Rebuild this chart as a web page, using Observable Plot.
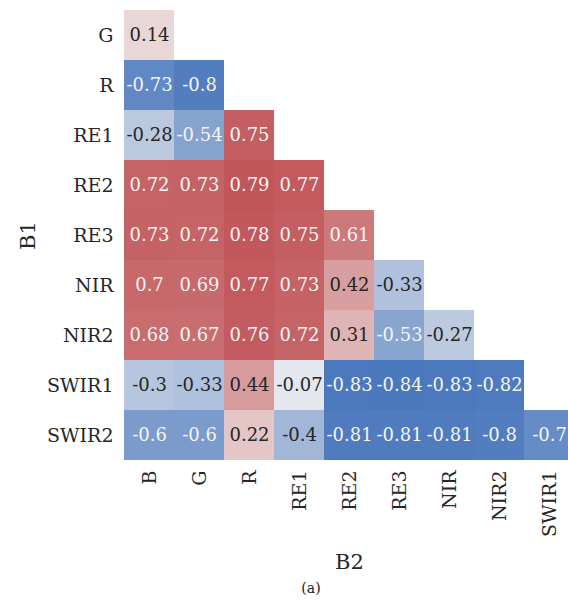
<!DOCTYPE html>
<html>
<head>
<meta charset="utf-8">
<script src="https://cdn.jsdelivr.net/npm/d3@7"></script>
<script src="https://cdn.jsdelivr.net/npm/@observablehq/plot@0.6"></script>
<style>
  html, body { margin: 0; padding: 0; background: #fff; }
  #caption { font-family: "DejaVu Serif", serif; font-size: 14px; color: #222; width: 568px; box-sizing: border-box; padding-left: 54px; text-align: center; margin-top: 2px; }
</style>
</head>
<body>
<div id="chart"></div>
<div id="caption">(a)</div>
<script>
const rowLabels = ["G", "R", "RE1", "RE2", "RE3", "NIR", "NIR2", "SWIR1", "SWIR2"];
const colLabels = ["B", "G", "R", "RE1", "RE2", "RE3", "NIR", "NIR2", "SWIR1"];
const rowG     = [0.14];
const rowR     = [-0.73, -0.8];
const rowRE1   = [-0.28, -0.54, 0.75];
const rowRE2   = [0.72, 0.73, 0.79, 0.77];
const rowRE3   = [0.73, 0.72, 0.78, 0.75, 0.61];
const rowNIR   = [0.7, 0.69, 0.77, 0.73, 0.42, -0.33];
const rowNIR2  = [0.68, 0.67, 0.76, 0.72, 0.31, -0.53, -0.27];
const rowSWIR1 = [-0.3, -0.33, 0.44, -0.07, -0.83, -0.84, -0.83, -0.82];
const rowSWIR2 = [-0.6, -0.6, 0.22, -0.4, -0.81, -0.81, -0.81, -0.8, -0.7];
const rowValues = [rowG, rowR, rowRE1, rowRE2, rowRE3, rowNIR, rowNIR2, rowSWIR1, rowSWIR2];

const cells = [];
rowValues.forEach((vals, i) => vals.forEach((v, j) => cells.push({b1: rowLabels[i], b2: colLabels[j], v})));

const font = "DejaVu Serif";
const chart = Plot.plot({
  width: 568,
  height: 578,
  marginLeft: 123,
  marginTop: 10,
  marginBottom: 118,
  marginRight: -7,
  style: {fontFamily: font, color: "#262626", background: "white", overflow: "hidden"},
  x: {domain: colLabels, padding: 0},
  y: {domain: rowLabels, padding: 0},
  color: {type: "linear", domain: [-0.84, 0, 0.79], range: ["#4a78bd", "#f2f1f1", "#c1565a"]},
  marks: [
    Plot.cell(cells, {x: "b2", y: "b1", fill: "v"}),
    Plot.text(cells, {x: "b2", y: "b1", text: d => String(d.v), fontSize: 18,
      fill: d => (d.v < -0.45 || d.v > 0.5) ? "#f4f4f4" : "#262626"}),
    Plot.axisX({tickSize: 0, tickPadding: 10, tickRotate: -90, fontSize: 19,
      label: "B2", labelAnchor: "center", labelArrow: "none", labelOffset: 108}),
    Plot.axisY({tickSize: 0, tickPadding: 10, fontSize: 19,
      label: "B1", labelAnchor: "center", labelArrow: "none", labelOffset: 103})
  ]
});
document.getElementById("chart").appendChild(chart);
// axis label sizes
chart.querySelectorAll("g[aria-label='x-axis label'] text, g[aria-label='y-axis label'] text").forEach(t => t.setAttribute("font-size", 21));
</script>
</body>
</html>
